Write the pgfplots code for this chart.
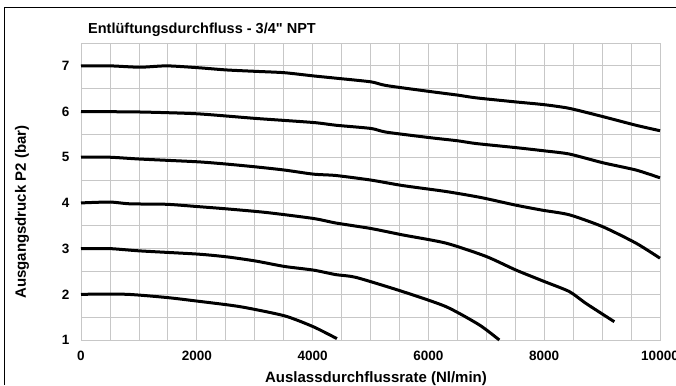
\documentclass[border=0pt]{standalone}
\usepackage{pgfplots}
\pgfplotsset{compat=1.18}
\usepackage{fontspec}
\setmainfont{Liberation Sans}[Ligatures=TeXOff]
\begin{document}
\begin{tikzpicture}
\begin{axis}[
  at={(0pt,0pt)}, anchor=south west,
  scale only axis, width=579pt, height=297pt,
  xmin=0, xmax=10000, ymin=1, ymax=7.5,
  xtick={0,2000,...,10000}, ytick={1,2,...,7},
  minor xtick={0,500,...,10000}, minor ytick={1,1.5,...,7.5},
  grid=both,
  major grid style={draw=black!22, line width=0.8pt},
  minor grid style={draw=black!22, line width=0.8pt},
  axis line style={draw=black!22, line width=0.8pt},
  major tick length=0pt, minor tick length=0pt,
  scaled ticks=false,
  /pgf/number format/assume math mode=true,
  /pgf/number format/1000 sep={},
  ticklabel style={font=\bfseries\fontsize{13.5}{15}\selectfont},
  xticklabel style={yshift=-7.5pt},
  yticklabel style={xshift=-8pt},
  clip=false,
]
\addplot[black, line width=3pt, smooth, tension=0.4] coordinates {
(0,7.0) (500,7.0) (1019,6.97) (1480,7.0) (2015,6.96) (2516,6.91) (3010,6.88) (3512,6.85) (4013,6.78) (4404,6.73) (5008,6.65) (5268,6.57) (6016,6.44) (6505,6.36) (6822,6.30) (7513,6.21) (8002,6.15) (8434,6.07) (9010,5.89) (9585,5.70) (10000,5.58)};
\addplot[black, line width=3pt, smooth, tension=0.4] coordinates {
(0,6.0) (1019,5.99) (2015,5.95) (3010,5.85) (4013,5.76) (4404,5.70) (5008,5.63) (5268,5.55) (6016,5.43) (6505,5.36) (6822,5.30) (7513,5.21) (8002,5.14) (8434,5.07) (9010,4.88) (9585,4.72) (10000,4.55)};
\addplot[black, line width=3pt, smooth, tension=0.4] coordinates {
(0,5.0) (500,5.0) (1019,4.96) (2015,4.90) (2516,4.85) (3010,4.79) (3512,4.72) (4013,4.63) (4404,4.60) (5008,4.50) (5555,4.38) (6304,4.25) (6900,4.12) (7513,3.95) (7973,3.84) (8434,3.74) (9010,3.48) (9585,3.12) (10000,2.79)};
\addplot[black, line width=3pt, smooth, tension=0.4] coordinates {
(0,4.0) (500,4.02) (846,3.98) (1480,3.97) (2015,3.92) (2516,3.87) (3206,3.79) (4013,3.66) (4404,3.56) (5008,3.44) (5555,3.30) (6304,3.12) (6995,2.83) (7513,2.53) (8002,2.28) (8434,2.06) (8722,1.80) (9211,1.40)};
\addplot[black, line width=3pt, smooth, tension=0.4] coordinates {
(0,3.0) (500,3.0) (1019,2.95) (2015,2.88) (2516,2.82) (3010,2.73) (3512,2.61) (4013,2.53) (4404,2.43) (4750,2.37) (5555,2.06) (6304,1.73) (6880,1.33) (7225,1.0)};
\addplot[black, line width=3pt, smooth, tension=0.4] coordinates {
(0,2.0) (789,2.0) (1480,1.93) (2015,1.85) (2746,1.73) (3512,1.53) (4013,1.29) (4420,1.03)};
\end{axis}
\draw[black, line width=1pt] (-76pt,-45pt) -- (-76pt,332pt) -- (595pt,332pt);
\node[anchor=base west, font=\bfseries\fontsize{14.5}{16}\selectfont, inner sep=0pt] at (7pt,306pt) {Entlüftungsdurchfluss - 3/4" NPT};
\node[rotate=90, font=\bfseries\fontsize{15}{17}\selectfont, inner sep=0pt] at (-59pt,128pt) {Ausgangsdruck P2 (bar)};
\node[anchor=base, font=\bfseries\fontsize{15}{17}\selectfont, inner sep=0pt] at (295pt,-42pt) {Auslassdurchflussrate (Nl/min)};
\pgfresetboundingbox
\useasboundingbox (-81pt,-45pt) rectangle (595pt,340pt);
\end{tikzpicture}
\end{document}
